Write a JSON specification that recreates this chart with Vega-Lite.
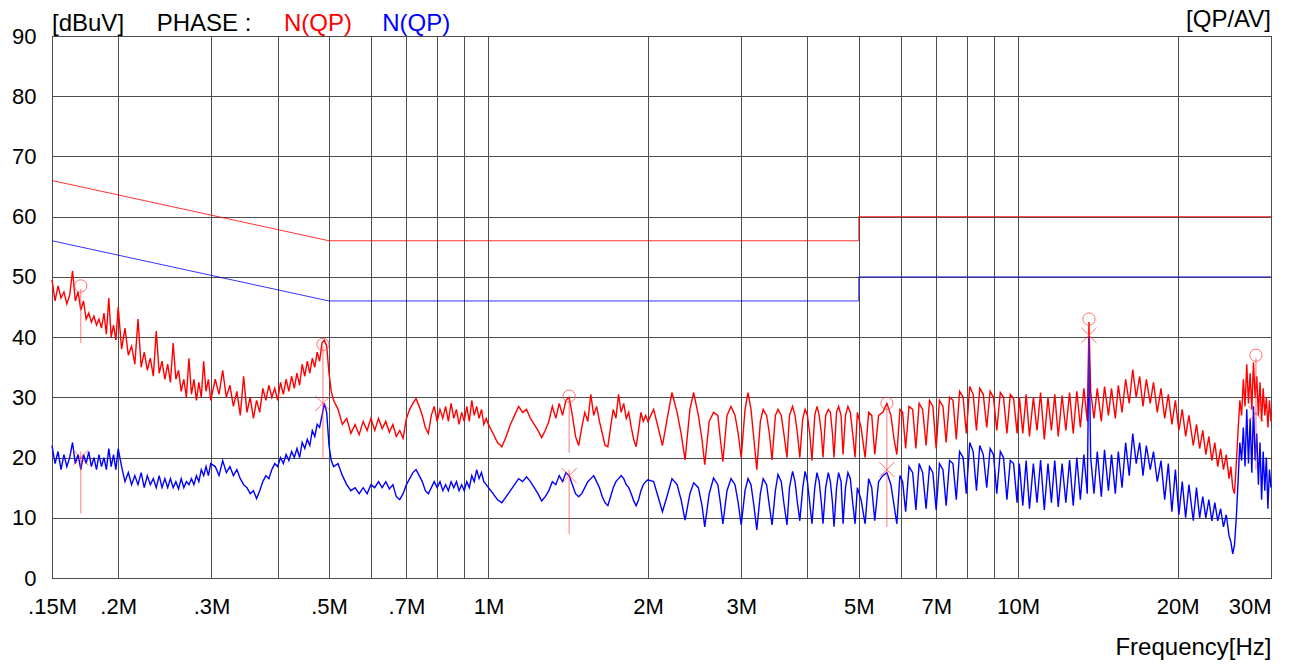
{
"$schema":"https://vega.github.io/schema/vega-lite/v6.json",
"width":1219,"height":542,
"autosize":{"type":"none"},
"padding":{"left":52,"top":36,"right":18,"bottom":88},
"background":"#ffffff",
"config":{"font":"Liberation Sans","view":{"stroke":"#000000","strokeWidth":1}},
"datasets":{
"lim":[{"f":0.15,"v":66,"s":"QP","i":0},{"f":0.5,"v":56,"s":"QP","i":1},{"f":5,"v":56,"s":"QP","i":2},{"f":5,"v":60,"s":"QP","i":3},{"f":30,"v":60,"s":"QP","i":4},
{"f":0.15,"v":56,"s":"AV","i":0},{"f":0.5,"v":46,"s":"AV","i":1},{"f":5,"v":46,"s":"AV","i":2},{"f":5,"v":50,"s":"AV","i":3},{"f":30,"v":50,"s":"AV","i":4}],
"mk":[{"f":0.170,"y1":48,"y2":39},{"f":0.170,"y1":21,"y2":10.7},{"f":0.487,"y1":38.5,"y2":19.7},{"f":1.42,"y1":30,"y2":20.8},{"f":1.42,"y1":18,"y2":7.3},{"f":5.65,"y1":28.5,"y2":8.5},{"f":13.6,"y1":42.5,"y2":30},{"f":28.1,"y1":36.5,"y2":18}],
"qpm":[{"f":0.170,"v":48.5},{"f":0.487,"v":38.8},{"f":1.42,"v":30.2},{"f":5.65,"v":29},{"f":13.6,"v":43},{"f":28.1,"v":37}],
"avm":[{"f":0.170,"v":20},{"f":0.487,"v":29},{"f":1.42,"v":17},{"f":5.65,"v":18},{"f":13.6,"v":40.3},{"f":28.1,"v":27.3}],
"tr":[
{"f":0.150,"q":49.5,"a":22},{"f":0.152,"q":46,"a":19},{"f":0.154,"q":48.5,"a":21},{"f":0.156,"q":46.5,"a":18},{"f":0.158,"q":47.5,"a":20.5},{"f":0.160,"q":45.5,"a":18.5},{"f":0.162,"q":47,"a":20},{"f":0.164,"q":51,"a":22.5},{"f":0.166,"q":46,"a":19},{"f":0.168,"q":47.5,"a":20.5},{"f":0.170,"q":44.5,"a":18},{"f":0.172,"q":46,"a":20.5},{"f":0.174,"q":43,"a":19},{"f":0.176,"q":44,"a":21},{"f":0.178,"q":42.5,"a":18.5},{"f":0.180,"q":43.5,"a":20},{"f":0.182,"q":42,"a":18},{"f":0.184,"q":43,"a":20.5},{"f":0.186,"q":41.5,"a":18.5},{"f":0.188,"q":44,"a":20},{"f":0.190,"q":40.5,"a":18},{"f":0.192,"q":46.5,"a":21.5},{"f":0.194,"q":40,"a":18.5},{"f":0.196,"q":42,"a":20.5},{"f":0.198,"q":39.5,"a":18},{"f":0.200,"q":45,"a":21.5},
{"f":0.203,"q":38,"a":18.5},{"f":0.206,"q":41.5,"a":16},{"f":0.209,"q":37,"a":17.5},{"f":0.212,"q":38.5,"a":15.5},{"f":0.215,"q":35.5,"a":17},{"f":0.218,"q":43,"a":15.5},{"f":0.221,"q":35,"a":17.5},{"f":0.224,"q":37.5,"a":15},{"f":0.227,"q":34.5,"a":17},{"f":0.230,"q":36.5,"a":15.5},{"f":0.233,"q":33.5,"a":16.5},{"f":0.236,"q":41,"a":15},{"f":0.239,"q":34,"a":17},{"f":0.242,"q":36,"a":15},{"f":0.245,"q":33,"a":16.5},{"f":0.248,"q":35.5,"a":15},{"f":0.251,"q":32.5,"a":16.5},{"f":0.254,"q":39,"a":15},{"f":0.257,"q":33,"a":16},{"f":0.260,"q":34.5,"a":14.8},{"f":0.263,"q":31,"a":16.5},{"f":0.266,"q":33,"a":15},{"f":0.269,"q":30,"a":16},{"f":0.272,"q":36.5,"a":15.5},{"f":0.275,"q":30.5,"a":16.5},{"f":0.278,"q":33,"a":15.5},{"f":0.281,"q":29.5,"a":17},{"f":0.284,"q":32.5,"a":16},{"f":0.287,"q":30,"a":18},{"f":0.290,"q":36,"a":17},{"f":0.293,"q":31,"a":18.5},{"f":0.296,"q":33,"a":17},{"f":0.299,"q":29.5,"a":19},
{"f":0.305,"q":33,"a":18.5},{"f":0.310,"q":30.5,"a":17},{"f":0.315,"q":34.5,"a":19.5},{"f":0.320,"q":30,"a":17.5},{"f":0.325,"q":32,"a":18.5},{"f":0.330,"q":28.5,"a":17},{"f":0.335,"q":31,"a":18},{"f":0.340,"q":27,"a":16.5},{"f":0.345,"q":33.5,"a":15.5},{"f":0.350,"q":27.5,"a":15},{"f":0.355,"q":30,"a":14},{"f":0.360,"q":26.5,"a":14.5},{"f":0.365,"q":29.5,"a":13.2},{"f":0.370,"q":27.5,"a":14.5},{"f":0.375,"q":31.5,"a":16},{"f":0.380,"q":29.5,"a":17},{"f":0.385,"q":32,"a":16.5},{"f":0.390,"q":30,"a":18},{"f":0.395,"q":31.5,"a":19},{"f":0.400,"q":29.5,"a":18.5},{"f":0.405,"q":32.5,"a":20},{"f":0.410,"q":30.5,"a":19},{"f":0.415,"q":33,"a":20.5},{"f":0.420,"q":31,"a":19.5},{"f":0.425,"q":33.5,"a":21},{"f":0.430,"q":31.5,"a":20},{"f":0.435,"q":34,"a":21.5},{"f":0.440,"q":32,"a":20},{"f":0.445,"q":35.5,"a":22.5},{"f":0.450,"q":33.5,"a":21.5},{"f":0.455,"q":36,"a":23},{"f":0.460,"q":34,"a":22},{"f":0.465,"q":36.5,"a":24.5},{"f":0.470,"q":35,"a":23.5},{"f":0.475,"q":37.5,"a":25.5},{"f":0.480,"q":36,"a":25},{"f":0.485,"q":39,"a":27},{"f":0.490,"q":39.5,"a":29},{"f":0.495,"q":38.5,"a":27.5},
{"f":0.500,"q":34,"a":22},{"f":0.505,"q":31,"a":19.5},{"f":0.510,"q":29.5,"a":18.5},{"f":0.520,"q":28,"a":19},{"f":0.530,"q":25.5,"a":17},{"f":0.540,"q":26.5,"a":15.5},{"f":0.550,"q":24,"a":14.5},{"f":0.560,"q":25.5,"a":15},{"f":0.570,"q":23.8,"a":14},{"f":0.580,"q":26,"a":15},{"f":0.590,"q":24.5,"a":14},{"f":0.600,"q":26.5,"a":15.5},{"f":0.610,"q":24.5,"a":15},{"f":0.620,"q":26.5,"a":16},{"f":0.630,"q":24.8,"a":15},{"f":0.640,"q":26,"a":16},{"f":0.650,"q":24.2,"a":14.8},{"f":0.660,"q":25.5,"a":15.5},{"f":0.670,"q":23.5,"a":13.5},{"f":0.680,"q":24.5,"a":13},{"f":0.690,"q":23.2,"a":14},{"f":0.700,"q":26.5,"a":15.5},{"f":0.710,"q":28,"a":16.5},{"f":0.720,"q":29,"a":17.5},{"f":0.730,"q":29.8,"a":18},{"f":0.740,"q":28.5,"a":17},{"f":0.750,"q":27,"a":16},{"f":0.760,"q":25,"a":14.5},{"f":0.770,"q":24,"a":14},{"f":0.780,"q":27,"a":15},{"f":0.790,"q":28.5,"a":16},{"f":0.800,"q":26,"a":15},{"f":0.810,"q":28,"a":16},{"f":0.820,"q":26.5,"a":14.5},{"f":0.830,"q":28.5,"a":15.5},{"f":0.840,"q":26,"a":14.5},{"f":0.850,"q":29,"a":16},{"f":0.860,"q":26.5,"a":15},{"f":0.870,"q":28,"a":16},{"f":0.880,"q":25.5,"a":14.5},{"f":0.890,"q":27.5,"a":15.5},{"f":0.900,"q":26,"a":14.5},{"f":0.910,"q":28.5,"a":16},{"f":0.920,"q":26,"a":15},{"f":0.930,"q":29.5,"a":17},{"f":0.940,"q":27,"a":16},{"f":0.950,"q":28.5,"a":18},{"f":0.960,"q":26.5,"a":16.5},{"f":0.970,"q":28,"a":17.5},{"f":0.980,"q":25.5,"a":16},{"f":0.990,"q":26.5,"a":15.5},
{"f":1.00,"q":25.5,"a":15},{"f":1.02,"q":24,"a":14},{"f":1.04,"q":22.5,"a":13},{"f":1.06,"q":21.8,"a":12.5},{"f":1.08,"q":23.5,"a":13.5},{"f":1.10,"q":25.5,"a":14.5},{"f":1.12,"q":27,"a":15.5},{"f":1.14,"q":28.5,"a":16.5},{"f":1.16,"q":27.5,"a":16},{"f":1.18,"q":28,"a":16.8},{"f":1.20,"q":26.5,"a":16},{"f":1.22,"q":25.5,"a":15},{"f":1.24,"q":24.5,"a":14},{"f":1.26,"q":23.3,"a":12.8},{"f":1.28,"q":24.5,"a":13.5},{"f":1.30,"q":26,"a":14.5},{"f":1.32,"q":28.5,"a":16},{"f":1.34,"q":26.5,"a":15.5},{"f":1.36,"q":29,"a":17},{"f":1.38,"q":27,"a":16},{"f":1.40,"q":29.5,"a":17.5},{"f":1.42,"q":30,"a":17},{"f":1.44,"q":27,"a":15.5},{"f":1.46,"q":23.5,"a":14},{"f":1.48,"q":22,"a":13.5},{"f":1.50,"q":25,"a":14},{"f":1.52,"q":27.5,"a":15},{"f":1.54,"q":26,"a":16},{"f":1.56,"q":30.5,"a":16.5},{"f":1.58,"q":27,"a":17},{"f":1.60,"q":28.5,"a":16},{"f":1.62,"q":26,"a":15},{"f":1.64,"q":24,"a":13.5},{"f":1.66,"q":22,"a":12.5},{"f":1.68,"q":21.8,"a":12},{"f":1.70,"q":25,"a":13.5},{"f":1.72,"q":28,"a":15},{"f":1.74,"q":26.5,"a":16},{"f":1.76,"q":30.5,"a":16.5},{"f":1.78,"q":27.5,"a":17},{"f":1.80,"q":29,"a":16.5},{"f":1.82,"q":26.5,"a":15.5},{"f":1.84,"q":27.5,"a":15},{"f":1.86,"q":25,"a":14},{"f":1.88,"q":23,"a":12.8},{"f":1.90,"q":21.8,"a":12},{"f":1.92,"q":24.5,"a":13},{"f":1.94,"q":27.5,"a":14.5},{"f":1.96,"q":26,"a":15.5},{"f":1.98,"q":27,"a":16},
{"f":2.00,"q":26,"a":16.3},{"f":2.05,"q":28,"a":16},{"f":2.09,"q":25,"a":13.5},{"f":2.13,"q":22,"a":11},{"f":2.18,"q":27,"a":14},{"f":2.22,"q":30.8,"a":16.5},{"f":2.27,"q":27.5,"a":15.5},{"f":2.31,"q":24,"a":13},{"f":2.35,"q":19.6,"a":9.6},{"f":2.40,"q":28,"a":14},{"f":2.44,"q":30.8,"a":15.8},{"f":2.49,"q":27,"a":15},{"f":2.53,"q":23,"a":12},{"f":2.56,"q":18.8,"a":8.5},{"f":2.61,"q":26,"a":14},{"f":2.66,"q":27.5,"a":16.6},{"f":2.71,"q":27,"a":15.5},{"f":2.74,"q":23,"a":12.5},{"f":2.77,"q":19.3,"a":9},{"f":2.82,"q":27,"a":14.5},{"f":2.87,"q":28.5,"a":16.5},{"f":2.92,"q":27,"a":15.5},{"f":2.96,"q":24,"a":12.5},{"f":3.00,"q":20,"a":8.8},{"f":3.05,"q":28,"a":14.5},{"f":3.09,"q":30.8,"a":16.5},{"f":3.13,"q":28,"a":15.5},{"f":3.17,"q":23,"a":12},{"f":3.21,"q":18,"a":8},{"f":3.26,"q":26,"a":14},{"f":3.30,"q":28,"a":16.5},{"f":3.35,"q":27,"a":15.5},{"f":3.39,"q":24,"a":12},{"f":3.43,"q":19.6,"a":8.8},{"f":3.48,"q":27,"a":14.5},{"f":3.52,"q":28,"a":17.2},{"f":3.57,"q":27,"a":16},{"f":3.61,"q":24,"a":12.5},{"f":3.66,"q":20,"a":8.8},{"f":3.70,"q":27,"a":15},{"f":3.75,"q":28.5,"a":17.7},{"f":3.79,"q":27,"a":16},{"f":3.83,"q":24,"a":12.5},{"f":3.87,"q":20,"a":9.5},{"f":3.92,"q":26.5,"a":15},{"f":3.96,"q":28,"a":17.7},{"f":4.00,"q":27,"a":16},{"f":4.04,"q":24,"a":12.5},{"f":4.08,"q":19.5,"a":9},{"f":4.13,"q":27,"a":15},{"f":4.17,"q":28.5,"a":17.5},{"f":4.21,"q":27,"a":16},{"f":4.25,"q":24,"a":12.5},{"f":4.28,"q":20,"a":9},{"f":4.33,"q":27,"a":15},{"f":4.38,"q":28,"a":17.5},{"f":4.42,"q":27.5,"a":16},{"f":4.46,"q":24,"a":12.5},{"f":4.49,"q":20,"a":8.5},{"f":4.54,"q":27.5,"a":15},{"f":4.58,"q":28.5,"a":17.5},{"f":4.63,"q":27,"a":16},{"f":4.67,"q":20.5,"a":9},{"f":4.72,"q":27,"a":15},{"f":4.77,"q":28.5,"a":17.5},{"f":4.82,"q":27.5,"a":16.5},{"f":4.87,"q":24,"a":12.5},{"f":4.92,"q":20,"a":9},{"f":4.97,"q":27.5,"a":15},
{"f":5.05,"q":25,"a":13},{"f":5.14,"q":20,"a":9},{"f":5.22,"q":27.5,"a":16.5},{"f":5.29,"q":27,"a":15},{"f":5.36,"q":20.5,"a":9.5},{"f":5.45,"q":27,"a":16},{"f":5.55,"q":27.5,"a":17},{"f":5.65,"q":29,"a":17.5},{"f":5.75,"q":27,"a":15.5},{"f":5.83,"q":23,"a":12},{"f":5.90,"q":20.5,"a":9},{"f":5.98,"q":28,"a":17},{"f":6.05,"q":27.5,"a":16},{"f":6.13,"q":21.5,"a":11},{"f":6.22,"q":28.5,"a":18.5},{"f":6.32,"q":28,"a":17.5},{"f":6.41,"q":21.5,"a":11.3},{"f":6.50,"q":29,"a":19},{"f":6.60,"q":28,"a":17.5},{"f":6.70,"q":22,"a":11.5},{"f":6.80,"q":29.5,"a":18.5},{"f":6.90,"q":28.5,"a":17.5},{"f":7.00,"q":21.5,"a":11.3},{"f":7.10,"q":29.5,"a":19},{"f":7.21,"q":28.5,"a":18},{"f":7.31,"q":22.5,"a":12},{"f":7.42,"q":30,"a":19.5},{"f":7.53,"q":29.5,"a":19},{"f":7.64,"q":23,"a":13},{"f":7.75,"q":31,"a":21},{"f":7.87,"q":30,"a":20},{"f":7.98,"q":24,"a":14},{"f":8.10,"q":31.8,"a":22.5},{"f":8.22,"q":30.5,"a":21},{"f":8.34,"q":24.5,"a":14.5},{"f":8.46,"q":31.5,"a":22},{"f":8.59,"q":30.5,"a":20.5},{"f":8.72,"q":25,"a":15},{"f":8.85,"q":31,"a":21.5},{"f":8.98,"q":30,"a":20.5},{"f":9.11,"q":24.5,"a":14},{"f":9.25,"q":30.8,"a":21},{"f":9.38,"q":30,"a":20},{"f":9.52,"q":24,"a":13},{"f":9.66,"q":30.5,"a":19.5},{"f":9.80,"q":29.8,"a":19},{"f":9.95,"q":24,"a":12.5},
{"f":10.05,"q":30,"a":19},{"f":10.2,"q":24,"a":12},{"f":10.35,"q":30.5,"a":19.5},{"f":10.5,"q":23.5,"a":11.5},{"f":10.68,"q":30,"a":19},{"f":10.85,"q":24.5,"a":12.5},{"f":11.02,"q":30.8,"a":19.6},{"f":11.2,"q":23,"a":11.3},{"f":11.38,"q":30,"a":19},{"f":11.55,"q":24.5,"a":12.5},{"f":11.72,"q":30.5,"a":19.5},{"f":11.9,"q":23.5,"a":11.8},{"f":12.1,"q":30.3,"a":19},{"f":12.3,"q":24.5,"a":12.5},{"f":12.5,"q":30.8,"a":19.6},{"f":12.7,"q":24,"a":12},{"f":12.9,"q":31,"a":20},{"f":13.1,"q":25,"a":13},{"f":13.3,"q":31.5,"a":20.5},{"f":13.5,"q":26,"a":14},{"f":13.6,"q":42.5,"a":40},{"f":13.7,"q":31,"a":20},{"f":13.9,"q":26.5,"a":14},{"f":14.1,"q":31.5,"a":21},{"f":14.35,"q":26,"a":13.5},{"f":14.55,"q":31.8,"a":21.3},{"f":14.8,"q":27,"a":14.5},{"f":15.0,"q":31.5,"a":20.5},{"f":15.25,"q":26.5,"a":14},{"f":15.45,"q":32,"a":21},{"f":15.7,"q":27.5,"a":15},{"f":15.95,"q":33,"a":22.5},{"f":16.2,"q":29,"a":17},{"f":16.45,"q":34.6,"a":24},{"f":16.7,"q":30,"a":19},{"f":16.95,"q":33.5,"a":22.5},{"f":17.2,"q":28.5,"a":17},{"f":17.45,"q":33,"a":22},{"f":17.75,"q":29,"a":18},{"f":18.0,"q":32.5,"a":21},{"f":18.3,"q":27.5,"a":16},{"f":18.6,"q":31.5,"a":19.5},{"f":18.9,"q":26.5,"a":13},{"f":19.2,"q":30.5,"a":19},{"f":19.5,"q":25.5,"a":11},{"f":19.8,"q":29.5,"a":18},{"f":20.1,"q":24.5,"a":10.5},{"f":20.4,"q":28,"a":16},{"f":20.7,"q":23.5,"a":10},{"f":21.0,"q":27,"a":15.5},{"f":21.4,"q":22,"a":9.5},{"f":21.7,"q":25.5,"a":15},{"f":22.0,"q":21.5,"a":10},
{"f":22.3,"q":24.5,"a":13.5},{"f":22.6,"q":20.5,"a":10},{"f":22.9,"q":23.5,"a":13},{"f":23.2,"q":19.5,"a":9.5},{"f":23.5,"q":22.5,"a":12.5},{"f":23.8,"q":18.5,"a":9.5},{"f":24.1,"q":21.5,"a":11.5},{"f":24.4,"q":18,"a":8.5},{"f":24.7,"q":20.5,"a":10.5},{"f":25.0,"q":16.5,"a":7},{"f":25.2,"q":18.5,"a":6},{"f":25.4,"q":15,"a":4},{"f":25.6,"q":14,"a":5.5},{"f":25.8,"q":19,"a":10},{"f":26.0,"q":24.5,"a":16},{"f":26.2,"q":29.5,"a":22.5},{"f":26.4,"q":27,"a":19.5},{"f":26.6,"q":33,"a":25},{"f":26.8,"q":28.5,"a":18.5},{"f":27.0,"q":35.5,"a":28},{"f":27.2,"q":29,"a":19},{"f":27.4,"q":34,"a":26.5},{"f":27.6,"q":28,"a":17.5},{"f":27.8,"q":35.8,"a":28.5},{"f":28.0,"q":30,"a":19.5},{"f":28.2,"q":33.5,"a":24},{"f":28.4,"q":27,"a":15.5},{"f":28.6,"q":32.5,"a":22.5},{"f":28.8,"q":26,"a":13},{"f":29.0,"q":31.5,"a":21},{"f":29.2,"q":27,"a":14.5},{"f":29.4,"q":30,"a":20},{"f":29.6,"q":25,"a":11.5},{"f":29.8,"q":29.5,"a":18},{"f":30.0,"q":26,"a":15}
]},
"layer":[
{"data":{"name":"lim"},
 "mark":{"type":"line","strokeWidth":1,"opacity":0.8},
 "encoding":{
  "x":{"field":"f","type":"quantitative","scale":{"type":"log","domain":[0.15,30],"nice":false},
   "axis":{"values":[0.15,0.2,0.3,0.4,0.5,0.6,0.7,0.8,0.9,1,2,3,4,5,6,7,8,9,10,20,30],
    "grid":true,"gridColor":"#4d4d4d","gridOpacity":1,"gridWidth":1,"ticks":false,"domain":false,
    "labelExpr":"indexof([0.15,0.2,0.3,0.5,0.7,1,2,3,5,7,10,20,30], datum.value) >= 0 ? replace(toString(datum.value), '0.', '.') + 'M' : ''",
    "labelAlign":{"condition":{"test":"datum.value == 30","value":"right"},"value":"center"},
    "labelFontSize":22,"labelColor":"#000000","labelPadding":18,"labelOverlap":false,"labelFlush":false,"labelBound":false,
    "title":"Frequency[Hz]","titleFontSize":24,"titleFontWeight":"normal","titleColor":"#000000","titleAnchor":"end","titleAlign":"right","titlePadding":18}},
  "y":{"field":"v","type":"quantitative","scale":{"domain":[0,90],"nice":false,"zero":false},
   "axis":{"values":[0,10,20,30,40,50,60,70,80,90],"grid":true,"gridColor":"#4d4d4d","gridOpacity":1,"gridWidth":1,"ticks":false,"domain":false,
    "labelFontSize":22,"labelColor":"#000000","labelPadding":16,"title":null}},
  "color":{"field":"s","type":"nominal","scale":{"domain":["QP","AV"],"range":["#ff0000","#0000ff"]},"legend":null},
  "order":{"field":"i","type":"quantitative"}}},
{"data":{"name":"tr"},
 "mark":{"type":"line","color":"#ff0000","strokeWidth":1.4},
 "encoding":{"x":{"field":"f","type":"quantitative"},"y":{"field":"q","type":"quantitative"}}},
{"data":{"name":"tr"},
 "mark":{"type":"line","color":"#0000ff","strokeWidth":1.4},
 "encoding":{"x":{"field":"f","type":"quantitative"},"y":{"field":"a","type":"quantitative"}}},
{"data":{"name":"mk"},
 "mark":{"type":"rule","color":"#ff4040","opacity":0.7,"strokeWidth":1},
 "encoding":{"x":{"field":"f","type":"quantitative"},"y":{"field":"y1","type":"quantitative"},"y2":{"field":"y2"}}},
{"data":{"name":"qpm"},
 "mark":{"type":"point","shape":"circle","filled":false,"color":"#ff4040","opacity":0.75,"size":150,"strokeWidth":1},
 "encoding":{"x":{"field":"f","type":"quantitative"},"y":{"field":"v","type":"quantitative"}}},
{"data":{"name":"avm"},
 "mark":{"type":"point","shape":"M-1,-1L1,1M-1,1L1,-1","filled":false,"color":"#ff4040","opacity":0.75,"size":230,"strokeWidth":1},
 "encoding":{"x":{"field":"f","type":"quantitative"},"y":{"field":"v","type":"quantitative"}}},
{"data":{"values":[{"f":0.15,"t":"[dBuV]"},{"f":0.2364,"t":"PHASE :"}]},
 "mark":{"type":"text","align":"left","baseline":"alphabetic","fontSize":24,"color":"#000000"},
 "encoding":{"x":{"field":"f","type":"quantitative"},"y":{"datum":90.8,"type":"quantitative"},"text":{"field":"t","type":"nominal"}}},
{"data":{"values":[{"f":0.411,"t":"N(QP)"}]},
 "mark":{"type":"text","align":"left","baseline":"alphabetic","fontSize":24,"color":"#ff0000"},
 "encoding":{"x":{"field":"f","type":"quantitative"},"y":{"datum":90.8,"type":"quantitative"},"text":{"field":"t","type":"nominal"}}},
{"data":{"values":[{"f":0.63,"t":"N(QP)"}]},
 "mark":{"type":"text","align":"left","baseline":"alphabetic","fontSize":24,"color":"#0000ff"},
 "encoding":{"x":{"field":"f","type":"quantitative"},"y":{"datum":90.8,"type":"quantitative"},"text":{"field":"t","type":"nominal"}}},
{"data":{"values":[{"f":30,"t":"[QP/AV]"}]},
 "mark":{"type":"text","align":"right","baseline":"alphabetic","fontSize":24,"color":"#000000"},
 "encoding":{"x":{"field":"f","type":"quantitative"},"y":{"datum":91.5,"type":"quantitative"},"text":{"field":"t","type":"nominal"}}}
]
}
